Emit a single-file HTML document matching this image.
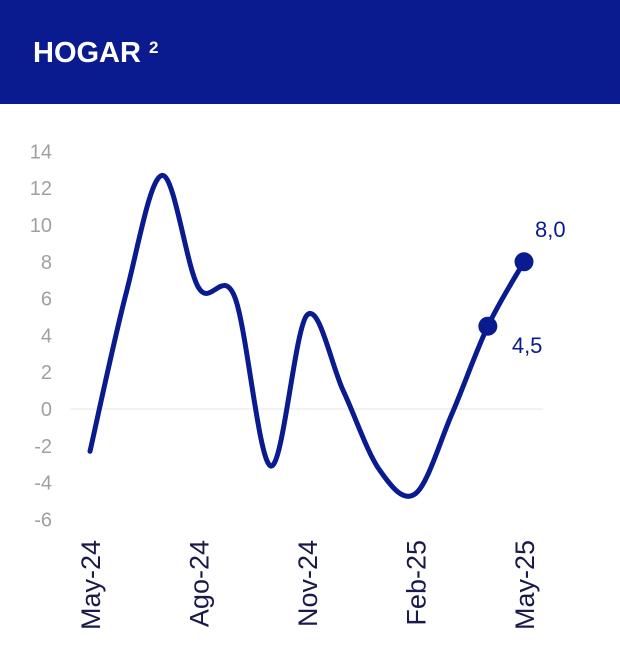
<!DOCTYPE html>
<html><head><meta charset="utf-8"><style>
body{margin:0;width:620px;height:647px;background:#fff;overflow:hidden;font-family:"Liberation Sans",Arial,sans-serif}
#hdr{position:absolute;left:0;top:0;width:620px;height:104px;background:#0a1a8f}
#title{position:absolute;left:33px;top:37px;color:#fff;font-weight:bold;font-size:29px}
#title sup{font-size:17px;position:relative;top:1px;vertical-align:top}
svg{position:absolute;left:0;top:0}
</style></head><body>
<div id="hdr"><div id="title">HOGAR <sup>2</sup></div></div>
<svg id="c" width="620" height="647"></svg>
<script>
const months=["May-24","Jun-24","Jul-24","Ago-24","Sep-24","Oct-24","Nov-24","Dic-24","Ene-25","Feb-25","Mar-25","Abr-25","May-25"];
const values=[-2.3,6.3,12.7,6.6,6.1,-3.1,5.1,1.0,-3.3,-4.6,-0.3,4.5,8.0];
const yTicks=[14,12,10,8,6,4,2,0,-2,-4,-6];
const xLabels=["May-24","Ago-24","Nov-24","Feb-25","May-25"];
const markedIdx=[11,12];
const markLabels=["4,5","8,0"];
const NS="http://www.w3.org/2000/svg";
const svg=document.getElementById('c');
const x=i=>90+i*(524-90)/12;
const y=v=>409-v*18.4;
function el(t,a,p){const e=document.createElementNS(NS,t);for(const k in a)e.setAttribute(k,a[k]);(p||svg).appendChild(e);return e;}
const g=el('line',{x1:70,x2:543,y1:y(0),y2:y(0),stroke:'#e4e4e4','stroke-width':1});


yTicks.forEach(v=>{const t=el('text',{x:52,y:y(v)+7,'text-anchor':'end','font-size':20,fill:'#a0a0a0'});t.textContent=v;

});
xLabels.forEach(l=>{const i=months.indexOf(l);const t=el('text',{x:0,y:0,'text-anchor':'end','font-size':27,fill:'#1a1a4a',transform:`translate(${x(i)+10},540) rotate(-90)`});t.textContent=l;

});
const pts=values.map((v,i)=>[x(i),y(v)]);
let d=`M${pts[0][0]},${pts[0][1]}`;
for(let i=0;i<pts.length-1;i++){const p0=pts[Math.max(0,i-1)],p1=pts[i],p2=pts[i+1],p3=pts[Math.min(pts.length-1,i+2)];
d+=` C${p1[0]+(p2[0]-p0[0])/6},${p1[1]+(p2[1]-p0[1])/6} ${p2[0]-(p3[0]-p1[0])/6},${p2[1]-(p3[1]-p1[1])/6} ${p2[0]},${p2[1]}`;}
const path=el('path',{d:d,fill:'none',stroke:'#0a1a8f','stroke-width':5,'stroke-linejoin':'round','stroke-linecap':'round'});


markedIdx.forEach((i,k)=>{const c=el('circle',{cx:x(i),cy:y(values[i]),r:9.5,fill:'#0a1a8f'});


const lx=k==0?x(i)+24:x(i)+11, ly=k==0?y(values[i])+27:y(values[i])-25;
const t=el('text',{x:lx,y:ly,'font-size':22,fill:'#0a1a8f'});t.textContent=markLabels[k];

});
</script>
</body></html>
